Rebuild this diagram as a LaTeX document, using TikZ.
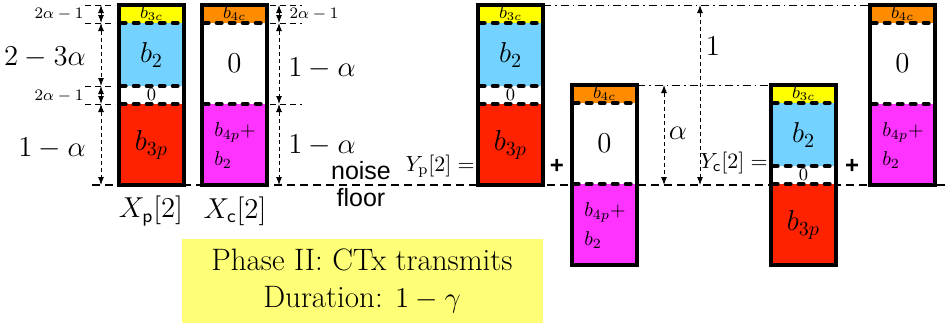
\documentclass[tikz,border=0pt]{standalone}
\usepackage{fontspec}
\newfontfamily\helv{Liberation Sans}
\usetikzlibrary{arrows.meta}
\definecolor{barYellow}{HTML}{FFFF00}
\definecolor{barBlue}{HTML}{73D2FF}
\definecolor{barRed}{HTML}{FF2200}
\definecolor{barOrange}{HTML}{FF8C00}
\definecolor{barMagenta}{HTML}{FF33FF}
\definecolor{capYellow}{HTML}{FFFF77}
\tikzset{
  boxframe/.style={draw=black, line width=2pt},
  segcut/.style={line width=2.3pt, dash pattern=on 2.2pt off 4.3pt, line cap=round},
  floorline/.style={line width=1pt, dash pattern=on 4pt off 2.5pt},
  dimline/.style={
    {Latex[length=4pt, width=3pt]}-{Latex[length=4pt, width=3pt]},
    line width=0.5pt, dash pattern=on 2pt off 1.5pt,
  },
  tickline/.style={line width=0.4pt, dash pattern=on 3pt off 2pt},
  guideline/.style={line width=0.4pt, dash pattern=on 4pt off 2pt on 0.8pt off 2pt},
  biglbl/.style={font=\Large, inner sep=0pt},
  smalllbl/.style={font=\small, inner sep=0pt},
  dimlbl/.style={font=\footnotesize, inner sep=0pt},
  mixlbl/.style={font=\normalsize, inner sep=0pt, anchor=west},
  xlbl/.style={font=\fontsize{13.5}{16}\selectfont, inner sep=0pt},
  ylbl/.style={font=\fontsize{11}{13}\selectfont, inner sep=0pt, anchor=east},
  plusnode/.style={font=\helv\large\bfseries, inner sep=0pt},
  noiselbl/.style={font=\helv\fontsize{12.5}{13.5}\selectfont, align=center, inner sep=0pt},
  capbox/.style={
    fill=capYellow, minimum width=180.5pt, minimum height=42pt,
    font=\fontsize{15.5}{18.5}\selectfont, align=center, inner sep=0pt,
  },
  % private bar: b3c / b2 / 0 / b3p
  pstack/.pic={
    \fill[barYellow] (0,0) rectangle (65,18);
    \fill[barBlue] (0,18) rectangle (65,81);
    \fill[white] (0,81) rectangle (65,99);
    \fill[barRed] (0,99) rectangle (65,180);
    \foreach \yy in {18,81,99} \draw[segcut] (2,\yy) -- (63,\yy);
    \draw[boxframe] (0,0) rectangle (65,180);
    \coordinate (-l0) at (0,0);
    \coordinate (-r0) at (65,0);
    \node[smalllbl] (-b3c) at (32.5,8) {$b_{3c}$};
    \node[biglbl] (-b2) at (32.5,50) {$b_2$};
    \node[smalllbl] (-zero) at (32.5,90) {$0$};
    \node[biglbl] (-b3p) at (32.5,140) {$b_{3p}$};
  },
  % common bar: b4c / 0 / b4p+b2
  cstack/.pic={
    \fill[barOrange] (0,0) rectangle (65,18);
    \fill[white] (0,18) rectangle (65,99);
    \fill[barMagenta] (0,99) rectangle (65,180);
    \foreach \yy in {18,99} \draw[segcut] (2,\yy) -- (63,\yy);
    \draw[boxframe] (0,0) rectangle (65,180);
    \coordinate (-l0) at (0,0);
    \coordinate (-r0) at (65,0);
    \node[smalllbl] (-b4c) at (32.5,8) {$b_{4c}$};
    \node[biglbl] (-zero) at (32.5,58) {$0$};
    \node[mixlbl] (-b4p) at (12,127) {$b_{4p}+$};
    \node[mixlbl] (-b2) at (12,155) {$b_2$};
  },
}

\begin{document}
\begin{tikzpicture}[x=0.5pt, y=-0.5pt]
  \useasboundingbox (0,0) rectangle (947,327);

  % === Noise floor ===
  \coordinate (nfL) at (92,185);
  \coordinate (nfR) at (947,185);
  \draw[floorline] (nfL) -- (nfR);
  \node[noiselbl] (nfTxt) at (361,184) {noise\\floor};

  % === Transmitted signals ===
  \pic (xp) at (119,5) {pstack};
  \pic (xc) at (202,5) {cstack};
  \node[xlbl] (xpLbl) at (151,211) {$X_{\mathsf{p}}[2]$};
  \node[xlbl] (xcLbl) at (235,211) {$X_{\mathsf{c}}[2]$};

  % === Levels left of X_p ===
  \foreach \lv/\yy in {0/5,1/23,2/86,3/104,4/185} \coordinate (dl\lv) at (101,\yy);
  \foreach \lv in {0,...,3} \draw[tickline] ([xshift=-8pt]dl\lv) -- ([xshift=7pt]dl\lv);
  \draw[dimline] (dl0) -- (dl1);
  \draw[dimline] (dl1) -- (dl2);
  \draw[dimline] (dl2) -- (dl3);
  \draw[dimline] (dl3) -- (dl4);
  \node[dimlbl] (dlA) at (59,14) {$2\alpha-1$};
  \node[biglbl] (dlB) at (45,57) {$2-3\alpha$};
  \node[dimlbl] (dlC) at (59,96) {$2\alpha-1$};
  \node[biglbl] (dlD) at (52,148) {$1-\alpha$};

  % === Levels right of X_c ===
  \foreach \lv/\yy in {0/5,1/23,2/104,3/185} \coordinate (dr\lv) at (279,\yy);
  \foreach \lv in {0,...,2} \draw[tickline] ([xshift=-4.5pt]dr\lv) -- ([xshift=11.5pt]dr\lv);
  \draw[dimline] (dr0) -- (dr1);
  \draw[dimline] (dr1) -- (dr2);
  \draw[dimline] (dr2) -- (dr3);
  \node[dimlbl] (drA) at (314,14) {$2\alpha-1$};
  \node[biglbl] (drB) at (322,68) {$1-\alpha$};
  \node[biglbl] (drC) at (322,145) {$1-\alpha$};

  % === Received signals ===
  \node[ylbl] (ypLbl) at (475,166) {$Y_{\mathrm{p}}[2]=$};
  \pic (yp) at (478,5) {pstack};
  \node[plusnode] (plusA) at (557,166) {+};
  \pic (yq) at (572,85) {cstack};

  \node[ylbl] (ycLbl) at (768,163) {$Y_{\mathsf{c}}[2]=$};
  \pic (yc) at (771,85) {pstack};
  \node[plusnode] (plusB) at (852,166) {+};
  \pic (yr) at (870,5) {cstack};

  % === Guides and level arrows ===
  \draw[guideline] (yp-r0) -- (yr-l0);
  \draw[guideline] (yq-r0) -- (yc-l0);
  \coordinate (aTop) at (664,85);
  \coordinate (aBot) at (664,185);
  \coordinate (oTop) at (700,5);
  \coordinate (oBot) at (700,185);
  \draw[dimline] (aTop) -- (aBot);
  \draw[dimline] (oTop) -- (oBot);
  \node[biglbl] (aLbl) at (678,133) {$\alpha$};
  \node[biglbl] (oLbl) at (713,46) {$1$};

  % === Caption ===
  \node[capbox] (phase) at (362,281) {Phase II: CTx transmits\\Duration: $1-\gamma$};

\end{tikzpicture}
\end{document}
